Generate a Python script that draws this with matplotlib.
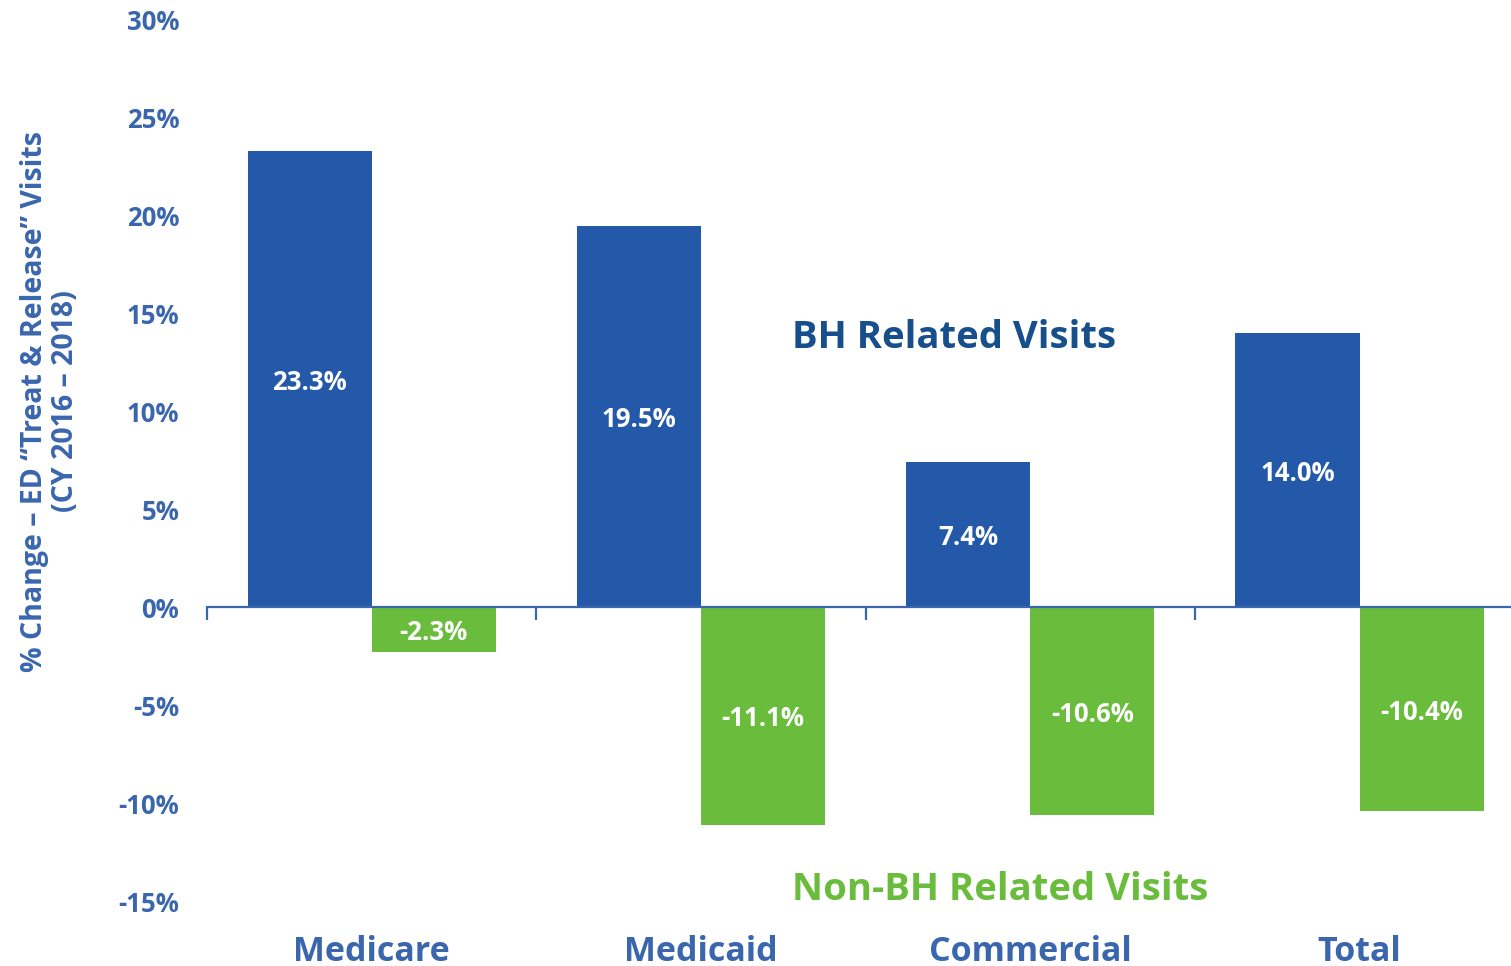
import matplotlib
matplotlib.use("Agg")
import matplotlib.pyplot as plt
import matplotlib.transforms as mtransforms
import numpy as np
from matplotlib import font_manager

categories = ["Medicare", "Medicaid", "Commercial", "Total"]
bh_values = [23.3, 19.5, 7.4, 14.0]
non_bh_values = [-2.3, -11.1, -10.6, -10.4]
y_ticks = [30, 25, 20, 15, 10, 5, 0, -5, -10, -15]

BLUE = "#2359A8"
DARK_BLUE = "#174E8C"
GREEN = "#6ABD3C"
AXIS_BLUE = "#3A66AE"

names = {f.name for f in font_manager.fontManager.ttflist}
main_font = "Open Sans" if "Open Sans" in names else "DejaVu Sans"
narrow_font = "Liberation Sans Narrow" if "Liberation Sans Narrow" in names else main_font
plt.rcParams['font.family'] = [main_font, 'DejaVu Sans']

fig = plt.figure(figsize=(15.11, 9.66), dpi=100)
ax = fig.add_axes([207/1511, 1 - 901/966, 1 - 207/1511, (901 - 20)/966])

x = np.arange(len(categories))
w = 0.377
ax.bar(x - w/2, bh_values, width=w, color=BLUE, zorder=2)
ax.bar(x + w/2, non_bh_values, width=w, color=GREEN, zorder=2)

for xi, v in zip(x, bh_values):
    ax.text(xi - w/2, v/2, f"{v:.1f}%", ha="center", va="center_baseline", color="white",
            fontsize=18.5, fontweight="bold", zorder=3)
for xi, v in zip(x, non_bh_values):
    ax.text(xi + w/2, v/2, f"{v:.1f}%", ha="center", va="center_baseline", color="white",
            fontsize=18.5, fontweight="bold", zorder=3)

ax.set_xlim(-0.5, 3.46)
ax.set_ylim(-15, 30)
ax.set_yticks(y_ticks)
ax.set_yticklabels([f"{t}%" for t in y_ticks], fontsize=18.5, fontweight="bold", color=AXIS_BLUE)
ax.tick_params(axis="y", length=0, pad=20)

for s in ["top", "right", "left"]:
    ax.spines[s].set_visible(False)
ax.spines["bottom"].set_position(("data", 0))
ax.spines["bottom"].set_color(AXIS_BLUE)
ax.spines["bottom"].set_linewidth(1.6)
ax.spines["bottom"].set_zorder(4)
ax.set_xticks([-0.5, 0.5, 1.5, 2.5])
ax.set_xticklabels([])
ax.tick_params(axis="x", direction="out", length=9, width=1.6, color=AXIS_BLUE)

trans = mtransforms.blended_transform_factory(ax.transData, ax.transAxes)
for xi, c in zip(x, categories):
    ax.text(xi, -0.053, c, transform=trans, ha="center", va="center_baseline",
            fontsize=24.5, fontweight="bold", color=AXIS_BLUE)

ax.text(1.276, 14.0, "BH Related Visits", ha="left", va="center_baseline", fontsize=27.5,
        fontweight="bold", color=DARK_BLUE)
ax.text(1.276, -14.2, "Non-BH Related Visits", ha="left", va="center_baseline", fontsize=27.5,
        fontweight="bold", color=GREEN)

fig.text(50/1511, 1 - 401/966, "% Change – ED “Treat & Release” Visits\n(CY 2016 – 2018)",
         rotation=90, ha="center", va="center", fontsize=20.5, fontweight="bold",
         color=AXIS_BLUE, family=[narrow_font, 'DejaVu Sans'], linespacing=1.05)

fig.savefig("out.png", dpi=100)
